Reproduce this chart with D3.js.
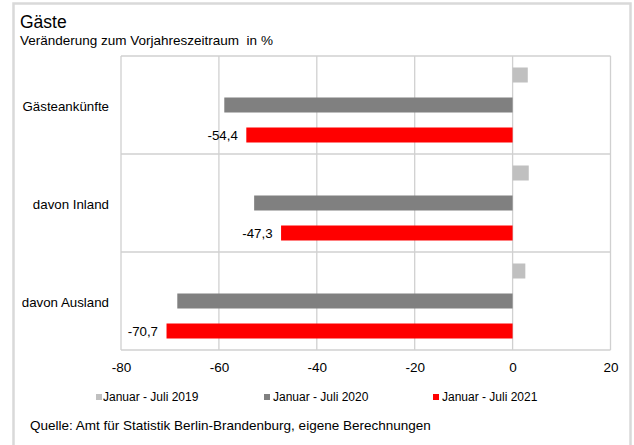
<!DOCTYPE html>
<html><head><meta charset="utf-8">
<script src="https://cdn.jsdelivr.net/npm/d3@7"></script>
<style>
html,body{margin:0;padding:0;background:#fff;}
svg{display:block;font-family:"Liberation Sans",Arial,sans-serif;}
</style></head>
<body>
<svg id="c" width="634" height="445"></svg>
<script>
const categories = ["Gästeankünfte", "davon Inland", "davon Ausland"];
const seriesNames = ["Januar - Juli 2019", "Januar - Juli 2020", "Januar - Juli 2021"];
const values2019 = [3.1, 3.3, 2.6];
const values2020 = [-58.9, -52.8, -68.5];
const values2021 = [-54.4, -47.3, -70.7];
const xTicks = [-80, -60, -40, -20, 0, 20];
const colors = ["#c0c0c0", "#808080", "#ff0000"];

const svg = d3.select("#c");
// outer frame
svg.append("rect").attr("x",13.5).attr("y",3.5).attr("width",617).attr("height",460)
  .attr("fill","none").attr("stroke","#d9d9d9").attr("stroke-width",2.5);

svg.append("text").attr("x",20).attr("y",28).attr("font-size",17.5).attr("fill","#000").text("Gäste");
svg.append("text").attr("x",20).attr("y",44.5).attr("font-size",13.5).attr("fill","#000")
  .style("white-space","pre")
  .text("Veränderung zum Vorjahreszeitraum  in %");

const L=121, R=610.5, T=56, B=350;
const x = d3.scaleLinear().domain([-80,20]).range([L,R]);
const y = d3.scaleBand().domain(categories).range([T,B]);
const inner = d3.scaleBand().domain(d3.range(3)).range([11.5, y.bandwidth()-11.5]).paddingInner(0.5).paddingOuter(0);

// grid
const g = svg.append("g");
g.selectAll("line.v").data(xTicks).join("line")
  .attr("x1",d=>x(d)).attr("x2",d=>x(d)).attr("y1",T).attr("y2",B)
  .attr("stroke","#d0d0d0").attr("stroke-width",1.3);
g.selectAll("line.h").data([T, y(categories[1]), y(categories[2]), B]).join("line")
  .attr("x1",L).attr("x2",R).attr("y1",d=>d).attr("y2",d=>d)
  .attr("stroke","#d0d0d0").attr("stroke-width",1.3);

const all = [values2019, values2020, values2021];
all.forEach((vals,si)=>{
  svg.append("g").selectAll("rect").data(vals).join("rect")
    .attr("x",d=>Math.min(x(d),x(0)))
    .attr("width",d=>Math.abs(x(d)-x(0)))
    .attr("y",(d,i)=>y(categories[i])+inner(si))
    .attr("height",inner.bandwidth())
    .attr("fill",colors[si]);
});

const fmtNum = d => d.toFixed(1).replace(".", ",");

// value labels for 2021
svg.append("g").selectAll("text").data(values2021).join("text")
  .attr("x",d=>x(d)-8.5).attr("y",(d,i)=>y(categories[i])+inner(2)+inner.bandwidth()/2)
  .attr("dy","0.35em").attr("text-anchor","end").attr("font-size",13.3)
  .text(fmtNum);

// category labels
svg.append("g").selectAll("text").data(categories).join("text")
  .attr("x",109).attr("y",d=>y(d)+y.bandwidth()/2+1).attr("dy","0.35em")
  .attr("text-anchor","end").attr("font-size",13.3).text(d=>d);

// x axis
const ax = svg.append("g").attr("transform",`translate(0,${B})`)
  .call(d3.axisBottom(x).tickValues(xTicks).tickSize(0).tickPadding(12).tickFormat(d=>String(d)));
ax.select(".domain").remove();
ax.selectAll("text").attr("font-size",13.5).attr("fill","#000").attr("font-family","Liberation Sans, Arial, sans-serif");

// legend
const legX = [96, 264, 433];
const leg = svg.append("g").selectAll("g").data(seriesNames).join("g")
  .attr("transform",(d,i)=>`translate(${legX[i]},397)`);
leg.append("rect").attr("x",0).attr("y",-3).attr("width",6).attr("height",6).attr("fill",(d,i)=>colors[i]);
leg.append("text").attr("x",(d,i)=>i===0?7:9).attr("y",0).attr("dy","0.35em").attr("font-size",12).text(d=>d);

svg.append("text").attr("x",30).attr("y",425).attr("dy","0.35em").attr("font-size",13.5)
  .text("Quelle: Amt für Statistik Berlin-Brandenburg, eigene Berechnungen");
</script>
</body></html>
